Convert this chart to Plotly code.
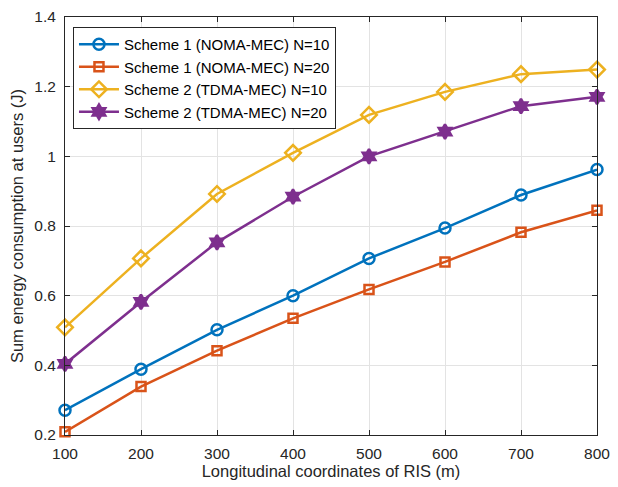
import plotly.graph_objects as go

x_vals = [100, 200, 300, 400, 500, 600, 700, 800]
s1_n10 = [0.271, 0.389, 0.502, 0.600, 0.707, 0.794, 0.889, 0.962]
s1_n20 = [0.209, 0.339, 0.442, 0.535, 0.618, 0.697, 0.782, 0.845]
s2_n10 = [0.509, 0.707, 0.892, 1.010, 1.119, 1.185, 1.236, 1.249]
s2_n20 = [0.404, 0.582, 0.753, 0.884, 1.000, 1.071, 1.144, 1.171]
names = ["Scheme 1 (NOMA-MEC) N=10", "Scheme 1 (NOMA-MEC) N=20",
         "Scheme 2 (TDMA-MEC) N=10", "Scheme 2 (TDMA-MEC) N=20"]
x_ticks = [100, 200, 300, 400, 500, 600, 700, 800]
y_ticks = [0.2, 0.4, 0.6, 0.8, 1.0, 1.2, 1.4]
y_tick_text = ["0.2", "0.4", "0.6", "0.8", "1", "1.2", "1.4"]

colors = ["#0072BD", "#D95319", "#EDB120", "#7E2F8E"]
symbols = ["circle-open", "square-open", "diamond-open", "hexagram"]
sizes = [11, 9, 12, 11]
series = [s1_n10, s1_n20, s2_n10, s2_n20]

fig = go.Figure()
for ys, nm, c, sym, sz in zip(series, names, colors, symbols, sizes):
    fig.add_trace(go.Scatter(
        x=x_vals, y=ys, name=nm, mode="lines+markers",
        line=dict(color=c, width=2.5),
        marker=dict(symbol=sym, size=sz, color=c, line=dict(color=c, width=2.5)),
        cliponaxis=False,
    ))

font_fam = "Liberation Sans, Arial, sans-serif"
axis_common = dict(
    showline=True, linecolor="#262626", linewidth=1, mirror="allticks",
    ticks="inside", ticklen=5, tickcolor="#262626",
    showgrid=True, gridcolor="#e3e3e3", gridwidth=1, zeroline=False,
    automargin=False,
    tickfont=dict(family=font_fam, size=15.5, color="#262626"),
)

# page body has an 8px default margin; figure coords = page coords - 8
fig.update_layout(
    width=610, height=479,
    margin=dict(l=57, r=21, t=9, b=52),
    paper_bgcolor="white", plot_bgcolor="white",
    font=dict(family=font_fam, color="#262626"),
    xaxis=dict(range=[100, 800], tickvals=x_ticks, ticklabelstandoff=4,
               title=dict(text="Longitudinal coordinates of RIS (m)", font=dict(size=16.5), standoff=4),
               **axis_common),
    yaxis=dict(range=[0.2, 1.4], tickvals=y_ticks, ticktext=y_tick_text, ticklabelstandoff=5,
               title=dict(text="Sum energy consumption at users (J)", font=dict(size=16.5), standoff=6),
               **axis_common),
    legend=dict(x=0.015, y=0.976, xanchor="left", yanchor="top",
                bgcolor="white", bordercolor="#262626", borderwidth=1,
                font=dict(size=15, color="#000"), tracegroupgap=0, itemwidth=40),
    showlegend=True,
)

fig.write_html("out.html")
